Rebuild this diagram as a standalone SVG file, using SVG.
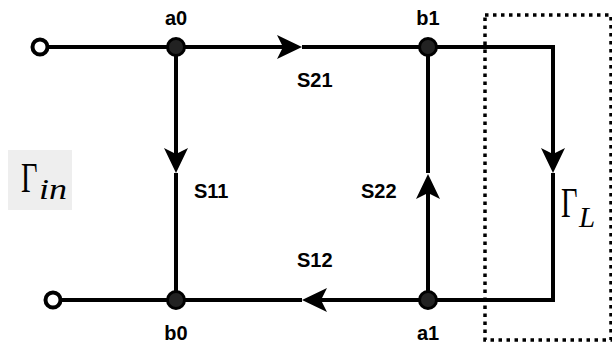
<svg xmlns="http://www.w3.org/2000/svg" width="612" height="343" viewBox="0 0 612 343">
<style>
.wire{fill:none;stroke:#000;stroke-width:4;stroke-linejoin:miter}
.node{fill:#222;stroke:#000;stroke-width:3}
.port{fill:#fff;stroke:#000;stroke-width:4}
.lbl{font-family:"Liberation Sans",Arial,sans-serif;font-weight:bold;font-size:20px;fill:#000}
.math{font-family:"Liberation Serif","Times New Roman",serif;fill:#000}
.box{fill:none;stroke:#000;stroke-width:3.5;stroke-dasharray:3.5 4.5}
</style>
<defs>
<marker id="arr" markerUnits="userSpaceOnUse" markerWidth="26" markerHeight="26" viewBox="0 0 26 26" refX="13" refY="13" orient="auto" overflow="visible">
<path d="M0,1 L25,13 L0,25 L6,13 Z" fill="#000"/>
</marker>
</defs>
<rect x="8" y="150" width="64" height="60" fill="#eeeeee"/>
<g id="gamma-in">
<text class="math" font-size="42" transform="translate(21,192) scale(0.68,1)">Γ</text>
<text class="math" font-size="30" font-style="italic" x="39" y="199" textLength="28" lengthAdjust="spacingAndGlyphs">in</text>
</g>
<g id="connectors">
<line class="wire" x1="47" y1="47" x2="176" y2="47"/>
<line class="wire" x1="176" y1="47" x2="290" y2="47" marker-end="url(#arr)"/>
<line class="wire" x1="302" y1="47" x2="428" y2="47"/>
<line class="wire" x1="176" y1="47" x2="176" y2="161" marker-end="url(#arr)"/>
<line class="wire" x1="176" y1="173" x2="176" y2="300"/>
<line class="wire" x1="60" y1="300" x2="176" y2="300"/>
<line class="wire" x1="428" y1="300" x2="314" y2="300" marker-end="url(#arr)"/>
<line class="wire" x1="302" y1="300" x2="176" y2="300"/>
<line class="wire" x1="428" y1="300" x2="428" y2="186" marker-end="url(#arr)"/>
<line class="wire" x1="428" y1="173" x2="428" y2="47"/>
<polyline class="wire" points="428,47 553,47 553,161" marker-end="url(#arr)"/>
<polyline class="wire" points="553,173 553,300 428,300"/>
</g>
<g id="load">
<rect class="box" x="485" y="15" width="126" height="325"/>
<text class="math" font-size="42" transform="translate(561,217) scale(0.68,1)">Γ</text>
<text class="math" font-size="29" font-style="italic" x="579" y="227">L</text>
</g>
<g id="port-in"><circle class="port" cx="40" cy="47" r="7.5"/></g>
<g id="port-out"><circle class="port" cx="53" cy="300" r="7.5"/></g>
<g id="a0"><circle class="node" cx="176" cy="47" r="8.5"/><text class="lbl" x="176" y="25" text-anchor="middle">a0</text></g>
<g id="b1"><circle class="node" cx="428" cy="47" r="8.5"/><text class="lbl" x="428" y="25" text-anchor="middle">b1</text></g>
<g id="b0"><circle class="node" cx="176" cy="300" r="8.5"/><text class="lbl" x="176" y="340" text-anchor="middle">b0</text></g>
<g id="a1"><circle class="node" cx="428" cy="300" r="8.5"/><text class="lbl" x="428" y="340" text-anchor="middle">a1</text></g>
<g id="labels">
<text class="lbl" x="297" y="87">S21</text>
<text class="lbl" x="194" y="198">S11</text>
<text class="lbl" x="361" y="198">S22</text>
<text class="lbl" x="297" y="267">S12</text>
</g>
</svg>
